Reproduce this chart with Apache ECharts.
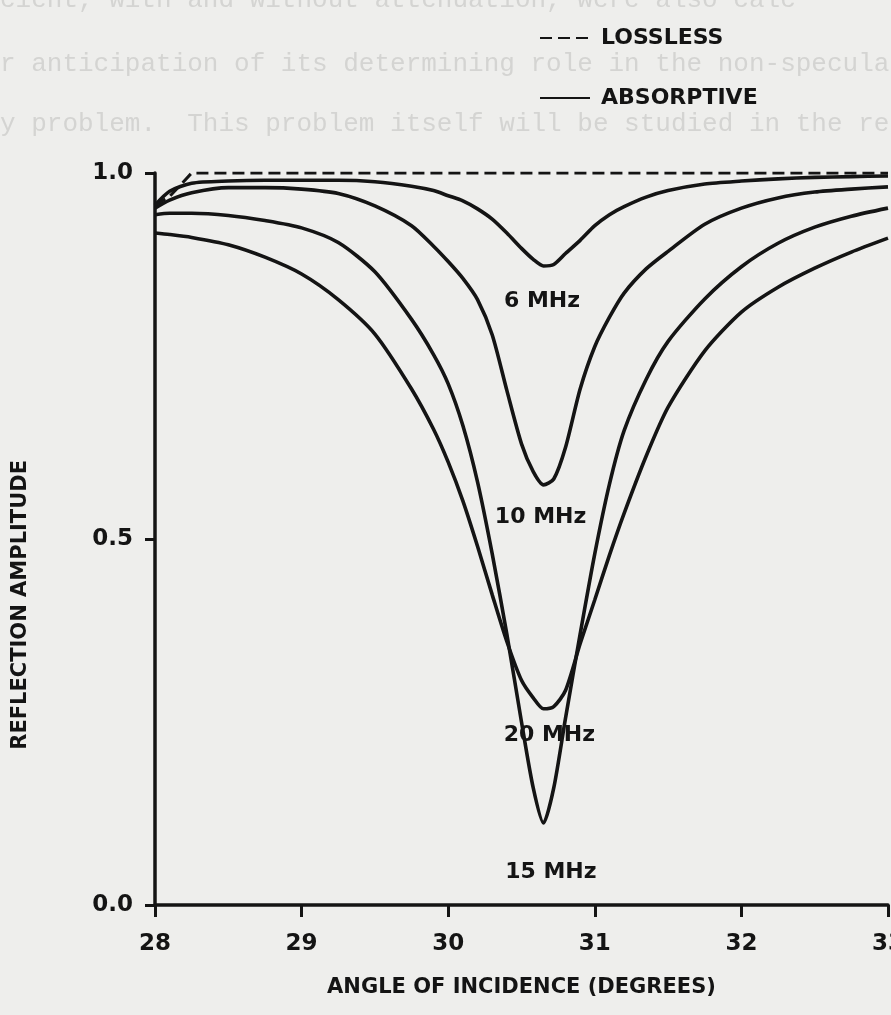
<!DOCTYPE html>
<html>
<head>
<meta charset="utf-8">
<title>Reflection amplitude</title>
<script src="https://cdn.jsdelivr.net/npm/echarts@6.0.0/dist/echarts.min.js"></script>
<style>
  html, body { margin: 0; padding: 0; background: #eeeeec; }
  #chart { width: 891px; height: 1015px; }
</style>
</head>
<body>
<div id="chart"></div>
<script>
// angle of incidence (degrees) shared by the absorptive curves
var angles = [28.0, 28.1, 28.25, 28.5, 28.75, 29.0, 29.25, 29.5, 29.75, 29.9, 30.0, 30.1, 30.2, 30.3, 30.4, 30.5,
    30.58, 30.65, 30.72, 30.8, 30.9, 31.0, 31.1, 31.2, 31.35, 31.5, 31.75, 32.0, 32.25, 32.5, 32.75, 33.0];

var mhz6 = [0.956, 0.975, 0.986, 0.989, 0.990, 0.990, 0.990, 0.988, 0.982, 0.976, 0.969, 0.962, 0.951, 0.937, 0.918, 0.897,
    0.882, 0.873, 0.875, 0.890, 0.908, 0.928, 0.943, 0.954, 0.967, 0.976, 0.985, 0.989, 0.992, 0.994, 0.995, 0.996];
var mhz10 = [0.952, 0.963, 0.973, 0.980, 0.980, 0.978, 0.972, 0.955, 0.928, 0.900, 0.879, 0.856, 0.827, 0.779, 0.703, 0.630,
    0.592, 0.574, 0.582, 0.625, 0.705, 0.763, 0.803, 0.836, 0.869, 0.893, 0.930, 0.952, 0.966, 0.974, 0.978, 0.981];
var mhz15 = [0.943, 0.945, 0.945, 0.942, 0.935, 0.925, 0.905, 0.865, 0.800, 0.752, 0.712, 0.655, 0.578, 0.480, 0.370, 0.250,
    0.160, 0.112, 0.160, 0.255, 0.370, 0.480, 0.575, 0.648, 0.718, 0.770, 0.828, 0.872, 0.904, 0.926, 0.941, 0.952];
var mhz20 = [0.918, 0.916, 0.912, 0.902, 0.885, 0.862, 0.827, 0.780, 0.705, 0.650, 0.605, 0.552, 0.490, 0.424, 0.360, 0.307,
    0.283, 0.268, 0.271, 0.293, 0.357, 0.417, 0.478, 0.535, 0.613, 0.680, 0.757, 0.810, 0.844, 0.870, 0.892, 0.911];

// lossless case
var losslessAngles = [28.0, 28.1, 28.18, 28.25, 29, 30, 31, 32, 33];
var losslessValues = [0.956, 0.968, 0.985, 1.0, 1.0, 1.0, 1.0, 1.0, 1.0];

// curve labels
var labelNames = ['6 MHz', '10 MHz', '20 MHz', '15 MHz'];
var labelX = [30.64, 30.63, 30.69, 30.70];
var labelY = [0.825, 0.529, 0.232, 0.045];

var xTicks = [28, 29, 30, 31, 32, 33];
var yTicks = [0.0, 0.5, 1.0];

var ink = '#141414';
var font = "'DejaVu Sans', sans-serif";
var faint = "26px 'Liberation Mono', monospace";

function pairs(xs, ys) {
    var out = [];
    for (var i = 0; i < xs.length; i++) out.push([xs[i], ys[i]]);
    return out;
}

function absorptive(values) {
    return {
        name: 'ABSORPTIVE',
        type: 'line',
        data: pairs(angles, values),
        smooth: 0.25,
        symbol: 'none',
        lineStyle: { color: ink, width: 3.6 },
        itemStyle: { color: ink },
        z: 3
    };
}

var chart = echarts.init(document.getElementById('chart'));

var labelData = [];
for (var i = 0; i < labelNames.length; i++) {
    labelData.push({ name: labelNames[i], value: [labelX[i], labelY[i]] });
}

var option = {
    backgroundColor: '#eeeeec',
    animation: false,
    grid: { left: 155, right: 3, top: 173, bottom: 110, outerBoundsMode: 'none' },
    legend: {
        orient: 'vertical',
        left: 534,
        top: 22,
        itemWidth: 50,
        itemHeight: 14,
        itemGap: 38,
        data: ['LOSSLESS', 'ABSORPTIVE'],
        itemStyle: { opacity: 0 },
        textStyle: { color: ink, fontFamily: font, fontWeight: 'bold', fontSize: 22, padding: [0, 0, 0, 6] }
    },
    xAxis: {
        type: 'value',
        min: xTicks[0],
        max: xTicks[xTicks.length - 1],
        interval: 1,
        name: 'ANGLE OF INCIDENCE (DEGREES)',
        nameLocation: 'middle',
        nameGap: 72,
        nameTextStyle: { color: ink, fontFamily: font, fontWeight: 'bold', fontSize: 21 },
        axisLine: { lineStyle: { color: ink, width: 3.5 } },
        axisTick: { length: 12, lineStyle: { color: ink, width: 3 } },
        axisLabel: { color: ink, fontFamily: font, fontWeight: 'bold', fontSize: 23, margin: 28 },
        splitLine: { show: false }
    },
    yAxis: {
        type: 'value',
        min: yTicks[0],
        max: yTicks[yTicks.length - 1],
        interval: 0.5,
        axisLine: { show: true, lineStyle: { color: ink, width: 3.5 } },
        axisTick: { show: true, length: 10, lineStyle: { color: ink, width: 3 } },
        axisLabel: {
            color: ink, fontFamily: font, fontWeight: 'bold', fontSize: 23, margin: 22,
            formatter: function (v) { return v.toFixed(1); }
        },
        splitLine: { show: false }
    },
    graphic: [
        { type: 'text', left: 0, top: -13, style: { text: 'cient, with and without attenuation, were also calc', font: faint, fill: '#d4d4d2' } },
        { type: 'text', left: 0, top: 51, style: { text: 'r anticipation of its determining role in the non-specular', font: faint, fill: '#d4d4d2' } },
        { type: 'text', left: 0, top: 111, style: { text: 'y problem.  This problem itself will be studied in the re', font: faint, fill: '#d4d4d2' } },
        {
            type: 'text', left: 10, top: 460, rotation: Math.PI / 2, originX: 0, originY: 0,
            style: { text: 'REFLECTION AMPLITUDE', font: "bold 21px 'DejaVu Sans', sans-serif", fill: ink },
            x: 10, y: 755
        }
    ],
    series: [
        {
            name: 'LOSSLESS',
            type: 'line',
            data: pairs(losslessAngles, losslessValues),
            symbol: 'none',
            lineStyle: { color: ink, width: 3, type: [12, 6] },
            itemStyle: { color: ink },
            z: 4
        },
        absorptive(mhz6),
        absorptive(mhz10),
        absorptive(mhz15),
        absorptive(mhz20),
        {
            name: 'labels',
            type: 'scatter',
            data: labelData,
            symbolSize: 0,
            silent: true,
            itemStyle: { opacity: 1, color: ink },
            label: {
                show: true,
                position: 'inside',
                formatter: '{b}',
                color: ink,
                opacity: 1,
                fontFamily: font,
                fontWeight: 'bold',
                fontSize: 22
            },
            z: 5
        }
    ]
};

chart.setOption(option);
</script>
</body>
</html>
